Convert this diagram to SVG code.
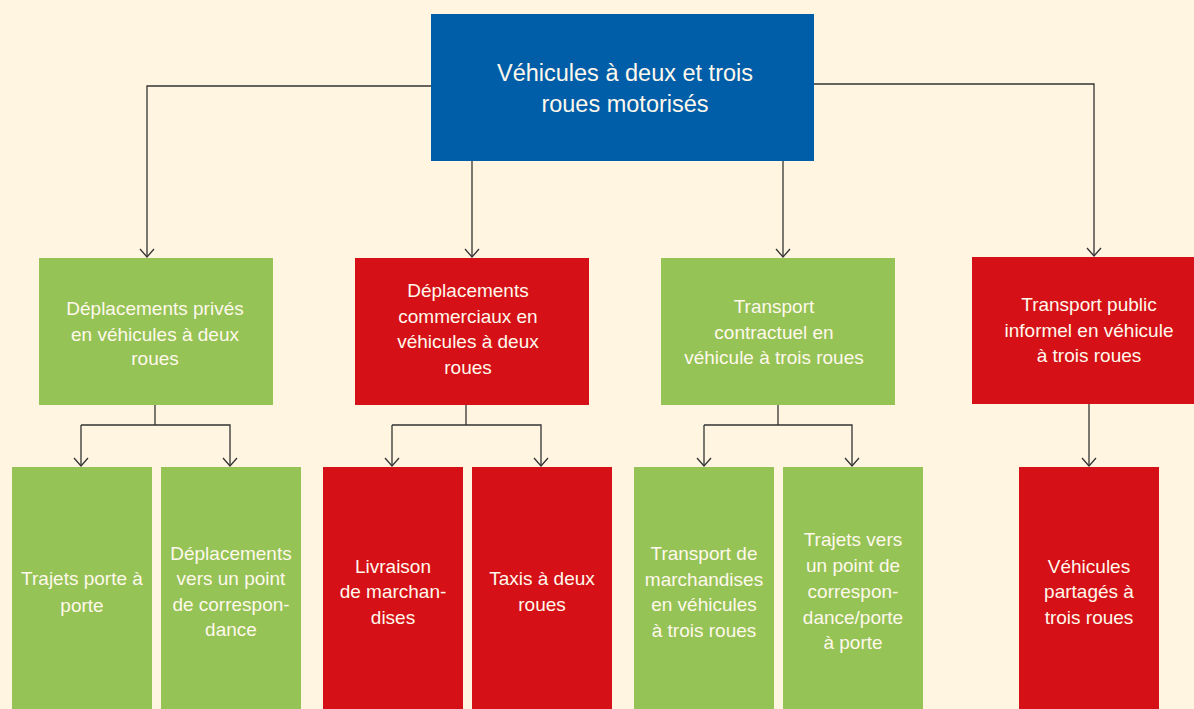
<svg xmlns="http://www.w3.org/2000/svg" width="1194" height="709" viewBox="0 0 1194 709">
<style>
.bg{fill:#FFF5E1}
.blue{fill:#005EA8}
.green{fill:#95C355}
.red{fill:#D51016}
.t{font-family:"Liberation Sans",Arial,sans-serif;font-size:19px;fill:#FFF8EC;text-anchor:middle}
.tt{font-family:"Liberation Sans",Arial,sans-serif;font-size:23.5px;fill:#FFF8EC;text-anchor:middle}
.c{fill:none;stroke:#333;stroke-width:1.3}
</style>
<defs>
<marker id="arr" markerUnits="userSpaceOnUse" markerWidth="20" markerHeight="20" refX="10" refY="10" orient="auto" viewBox="0 0 20 20">
<path d="M2,3 L10,10 L2,17" fill="none" stroke="#333" stroke-width="1.3"/>
</marker>
</defs>
<rect class="bg" x="0" y="0" width="1194" height="709"/>
<g id="connectors">
<path class="c" d="M431,86 H147 V257" marker-end="url(#arr)"/>
<path class="c" d="M472,160 V257" marker-end="url(#arr)"/>
<path class="c" d="M783,160 V257" marker-end="url(#arr)"/>
<path class="c" d="M813,84 H1094 V256" marker-end="url(#arr)"/>
<path class="c" d="M155,405 V425"/>
<path class="c" d="M81,425 V466" marker-end="url(#arr)"/>
<path class="c" d="M81,425 H230 V466" marker-end="url(#arr)"/>
<path class="c" d="M466,405 V425"/>
<path class="c" d="M392,425 V466" marker-end="url(#arr)"/>
<path class="c" d="M392,425 H541 V466" marker-end="url(#arr)"/>
<path class="c" d="M778,405 V425"/>
<path class="c" d="M704,425 V466" marker-end="url(#arr)"/>
<path class="c" d="M704,425 H852 V466" marker-end="url(#arr)"/>
<path class="c" d="M1089,404 V466" marker-end="url(#arr)"/>
</g>
<g id="root">
<rect class="blue" x="431" y="14" width="383" height="147"/>
<text class="tt" x="625" y="81">Véhicules à deux et trois</text>
<text class="tt" x="625" y="112">roues motorisés</text>
</g>
<g id="n-prive">
<rect class="green" x="39" y="258" width="234" height="147"/>
<text class="t" x="155" y="315">Déplacements privés</text>
<text class="t" x="155" y="341">en véhicules à deux</text>
<text class="t" x="155" y="365">roues</text>
</g>
<g id="n-commercial">
<rect class="red" x="355" y="258" width="234" height="147"/>
<text class="t" x="468" y="297">Déplacements</text>
<text class="t" x="468" y="323">commerciaux en</text>
<text class="t" x="468" y="348">véhicules à deux</text>
<text class="t" x="468" y="374">roues</text>
</g>
<g id="n-contractuel">
<rect class="green" x="661" y="258" width="234" height="147"/>
<text class="t" x="774" y="313">Transport</text>
<text class="t" x="774" y="339">contractuel en</text>
<text class="t" x="774" y="364">véhicule à trois roues</text>
</g>
<g id="n-informel">
<rect class="red" x="972" y="257" width="222" height="147"/>
<text class="t" x="1089" y="311">Transport public</text>
<text class="t" x="1089" y="337">informel en véhicule</text>
<text class="t" x="1089" y="362">à trois roues</text>
</g>
<g id="n-porte">
<rect class="green" x="12" y="467" width="140" height="242"/>
<text class="t" x="82" y="585">Trajets porte à</text>
<text class="t" x="82" y="612">porte</text>
</g>
<g id="n-correspondance">
<rect class="green" x="161" y="467" width="140" height="242"/>
<text class="t" x="231" y="560">Déplacements</text>
<text class="t" x="231" y="585">vers un point</text>
<text class="t" x="231" y="611">de correspon-</text>
<text class="t" x="231" y="636">dance</text>
</g>
<g id="n-livraison">
<rect class="red" x="323" y="467" width="140" height="242"/>
<text class="t" x="393" y="573">Livraison</text>
<text class="t" x="393" y="598">de marchan-</text>
<text class="t" x="393" y="624">dises</text>
</g>
<g id="n-taxis">
<rect class="red" x="472" y="467" width="140" height="242"/>
<text class="t" x="542" y="585">Taxis à deux</text>
<text class="t" x="542" y="611">roues</text>
</g>
<g id="n-marchandises">
<rect class="green" x="634" y="467" width="140" height="242"/>
<text class="t" x="704" y="560">Transport de</text>
<text class="t" x="704" y="586">marchandises</text>
<text class="t" x="704" y="611">en véhicules</text>
<text class="t" x="704" y="637">à trois roues</text>
</g>
<g id="n-trajets-vers">
<rect class="green" x="783" y="467" width="140" height="242"/>
<text class="t" x="853" y="546">Trajets vers</text>
<text class="t" x="853" y="572">un point de</text>
<text class="t" x="853" y="598">correspon-</text>
<text class="t" x="853" y="624">dance/porte</text>
<text class="t" x="853" y="649">à porte</text>
</g>
<g id="n-partages">
<rect class="red" x="1019" y="467" width="140" height="242"/>
<text class="t" x="1089" y="573">Véhicules</text>
<text class="t" x="1089" y="598">partagés à</text>
<text class="t" x="1089" y="624">trois roues</text>
</g>
</svg>
